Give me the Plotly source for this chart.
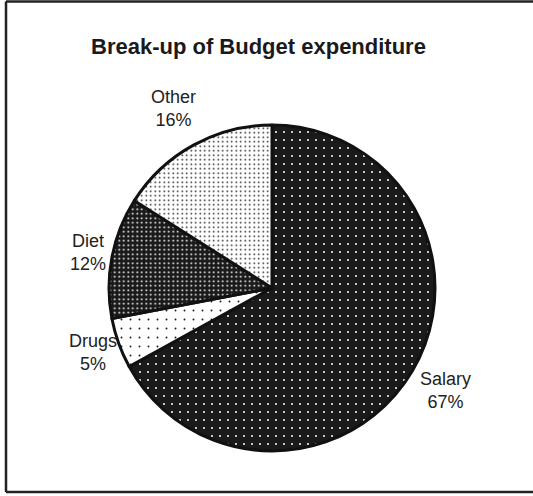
import math
import plotly.graph_objects as go

# Budget breakdown
categories = ["Salary", "Drugs", "Diet", "Other"]
shares = [67, 5, 12, 16]

# Per-slice dot fills (background, dot colour, tile size, dot solidity)
bg_colors = ["#1a1a1a", "#ffffff", "#1a1a1a", "#ffffff"]
fg_colors = ["#ffffff", "#1a1a1a", "#ffffff", "#1a1a1a"]
tile_sizes = [8, 9, 4.5, 4.5]
solidities = [0.05, 0.035, 0.14, 0.11]

# Distance of each outside label from the centre, in pie radii
label_radius = [1.24, 1.17, 1.15, 1.26]

W, H = 533, 496
cx, cy, r = 272, 288, 163
FONT = "Liberation Sans, Arial, sans-serif"

fig = go.Figure(
    go.Pie(
        labels=categories,
        values=shares,
        sort=False,
        direction="clockwise",
        rotation=0,
        textposition="none",
        marker=dict(
            colors=bg_colors,
            line=dict(color="#111111", width=3),
            pattern=dict(
                shape=["."] * len(categories),
                bgcolor=bg_colors,
                fgcolor=fg_colors,
                size=tile_sizes,
                solidity=solidities,
                fgopacity=1,
            ),
        ),
        domain=dict(
            x=[(cx - r) / W, (cx + r) / W],
            y=[1 - (cy + r) / H, 1 - (cy - r) / H],
        ),
        showlegend=False,
        hoverinfo="label+percent",
    )
)

# Outside labels, placed along each slice's middle angle (clockwise from 12 o'clock)
total = sum(shares)
start = 0.0
for name, val, k in zip(categories, shares, label_radius):
    mid = (start + val / 2) / total * 2 * math.pi
    start += val
    px = cx + k * r * math.sin(mid)
    py = cy - k * r * math.cos(mid)
    fig.add_annotation(
        text=f"{name}<br>{val}%",
        x=px / W, y=1 - py / H, xref="paper", yref="paper",
        xanchor="center", yanchor="middle", showarrow=False, align="center",
        font=dict(family=FONT, size=18, color="#222222"),
    )

fig.add_annotation(
    text="<b>Break-up of Budget expenditure</b>",
    x=258 / W, y=1 - 47 / H, xref="paper", yref="paper",
    xanchor="center", yanchor="middle", showarrow=False,
    font=dict(family=FONT, size=22, color="#1a1a1a"),
)

# Frame around the figure
frame = dict(type="line", xref="paper", yref="paper", line=dict(color="#222222", width=2.5))
fig.add_shape(x0=6 / W, x1=1, y0=1 - 1.5 / H, y1=1 - 1.5 / H, **frame)
fig.add_shape(x0=6 / W, x1=6 / W, y0=1 - 1.5 / H, y1=1 - 492 / H, **frame)
fig.add_shape(x0=6 / W, x1=1, y0=1 - 492 / H, y1=1 - 492 / H, **frame)

fig.update_layout(
    width=W, height=H,
    margin=dict(l=0, r=0, t=0, b=0),
    paper_bgcolor="white",
    plot_bgcolor="white",
)

fig.write_html("out.html")
